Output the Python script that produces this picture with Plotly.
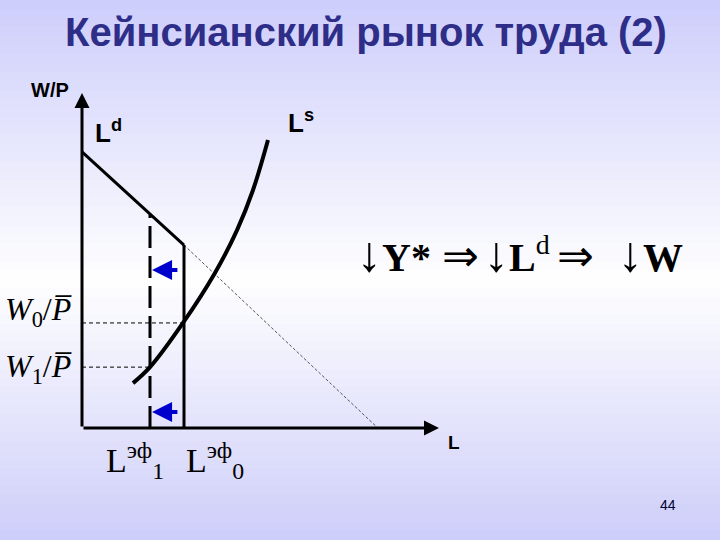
import plotly.graph_objects as go

# --- data (labour units on L, real wage units on W/P) ---
ld_L = [0.0, 3.0]            # labour demand, solid part
ld_W = [8.12, 5.38]
ld_ext_L = [3.0, 8.7]        # labour demand, dotted continuation
ld_ext_W = [5.38, 0.0]
ls_L = [1.5, 2.0, 2.97, 3.91, 4.56, 5.03, 5.47]   # labour supply curve
ls_W = [1.32, 1.79, 3.09, 4.56, 5.82, 7.0, 8.47]
L0, L1 = 3.0, 2.0            # effective employment before / after
W0, W1 = 3.09, 1.79          # real wage levels
ld_at_L1 = 6.29
shift_W = [4.65, 0.47]       # heights of the blue shift arrows
shift_from, shift_to = 2.85, 2.06
l_axis_end, w_axis_end = 10.5, 9.85

# --- layout: map data units onto the 720x540 page ---
W_PX, H_PX = 720, 540
ORIGIN_X, ORIGIN_Y, UNIT = 82, 428, 34
x_range = [-ORIGIN_X / UNIT, (W_PX - ORIGIN_X) / UNIT]
y_range = [-(H_PX - ORIGIN_Y) / UNIT, ORIGIN_Y / UNIT]

SERIF = "Liberation Serif"
SANS = "Liberation Sans"

fig = go.Figure()

# background gradient: lavender at top and bottom, white in the middle
shapes = []
n_bands = 60
for i in range(n_bands):
    y0 = i / n_bands
    y1 = (i + 1) / n_bands
    py = (1 - (y0 + y1) / 2) * H_PX
    if py < 280:
        t = py / 280
        c0, c1 = (206, 206, 252), (255, 255, 255)
    else:
        t = (py - 280) / (H_PX - 280)
        c0, c1 = (255, 255, 255), (206, 206, 250)
    col = tuple(int(c0[k] + (c1[k] - c0[k]) * t) for k in range(3))
    shapes.append(dict(type="rect", xref="paper", yref="paper", x0=0, x1=1,
                       y0=y0, y1=y1, line=dict(width=0),
                       fillcolor="rgb(%d,%d,%d)" % col, layer="below"))

line_black = dict(color="black", width=3)

fig.add_trace(go.Scatter(x=ld_ext_L, y=ld_ext_W, mode="lines",
                         line=dict(color="#555555", width=1, dash="3px,2px")))
fig.add_trace(go.Scatter(x=[0, L0], y=[W0, W0], mode="lines",
                         line=dict(color="black", width=1, dash="4px,3px")))
fig.add_trace(go.Scatter(x=[0, L1], y=[W1, W1], mode="lines",
                         line=dict(color="black", width=1, dash="4px,3px")))
fig.add_trace(go.Scatter(x=ld_L, y=ld_W, mode="lines", line=line_black))
fig.add_trace(go.Scatter(x=[L0, L0], y=[0, ld_W[1]], mode="lines", line=line_black))
fig.add_trace(go.Scatter(x=[L1, L1], y=[0, ld_at_L1], mode="lines",
                         line=dict(color="black", width=3, dash="22px,8px")))
fig.add_trace(go.Scatter(x=ls_L, y=ls_W, mode="lines", line_shape="spline",
                         line=dict(color="black", width=4)))

annotations = []
# axes with arrows
annotations.append(dict(x=0, y=w_axis_end, ax=0, ay=0, xref="x", yref="y",
                        axref="x", ayref="y", text="", showarrow=True,
                        arrowhead=2, arrowsize=1, arrowwidth=3, arrowcolor="black"))
annotations.append(dict(x=l_axis_end, y=0, ax=0, ay=0, xref="x", yref="y",
                        axref="x", ayref="y", text="", showarrow=True,
                        arrowhead=2, arrowsize=1, arrowwidth=3, arrowcolor="black"))
# blue shift arrows
for w in shift_W:
    annotations.append(dict(x=shift_to, y=w, ax=shift_from, ay=w, xref="x", yref="y",
                            axref="x", ayref="y", text="", showarrow=True,
                            arrowhead=2, arrowsize=1, arrowwidth=4, arrowcolor="#0000cc"))


def txt(s, px, py, size, family=SANS, color="black", anchor="center"):
    annotations.append(dict(text=s, x=px / W_PX, y=1 - py / H_PX, xref="paper",
                            yref="paper", showarrow=False, xanchor=anchor,
                            yanchor="middle", font=dict(size=size, family=family,
                                                        color=color)))


DOWN = "<span style='font-size:50px'>↓</span>"

txt("<b>Кейнсианский рынок труда (2)</b>", 366, 32, 40, color="#2e2e88")
txt("<b>W/P</b>", 50, 90, 20)
txt("<b>L<sup>d</sup></b>", 93, 131, 26, anchor="left")
txt("<b>L<sup>s</sup></b>", 286, 121, 26, anchor="left")
txt("<b>L</b>", 454, 442, 19)
txt("L<sup>эф</sup><sub>1</sub>", 104, 460, 34, family=SERIF, anchor="left")
txt("L<sup>эф</sup><sub>0</sub>", 184, 460, 34, family=SERIF, anchor="left")
# formula  ↓Y* ⇒ ↓Ld ⇒ ↓W, piece by piece
txt(DOWN + "<b>Y*</b>", 355, 254, 40, family=SERIF, anchor="left")
txt("⇒", 440, 256, 44, family=SERIF, anchor="left")
txt(DOWN + "<b>L</b><sup>d</sup>", 482, 254, 40, family=SERIF, anchor="left")
txt("⇒", 555, 256, 44, family=SERIF, anchor="left")
txt(DOWN + "<b>W</b>", 616, 254, 40, family=SERIF, anchor="left")
txt("<i>W</i><sub>0</sub>/<i>P\u0305</i>", 3, 312, 32, family=SERIF, anchor="left")
txt("<i>W</i><sub>1</sub>/<i>P\u0305</i>", 3, 368, 32, family=SERIF, anchor="left")
txt("44", 668, 505, 14, color="#000033")

fig.update_layout(
    width=W_PX, height=H_PX,
    margin=dict(l=0, r=0, t=0, b=0),
    paper_bgcolor="white", plot_bgcolor="rgba(0,0,0,0)",
    showlegend=False,
    shapes=shapes,
    annotations=annotations,
    xaxis=dict(range=x_range, visible=False, fixedrange=True),
    yaxis=dict(range=y_range, visible=False, fixedrange=True),
)

fig.write_html("out.html", config={"displayModeBar": False},
               post_script="document.body.style.margin='0';")
